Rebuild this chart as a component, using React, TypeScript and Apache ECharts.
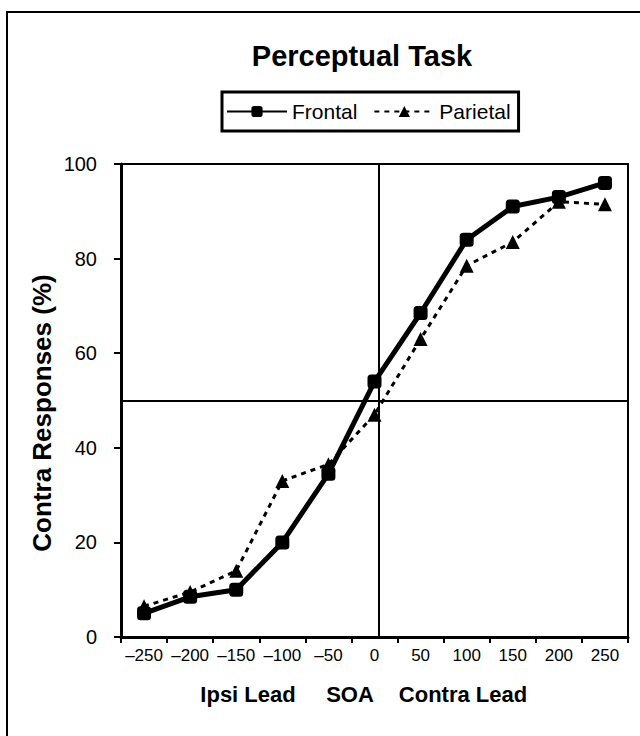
import React, { useEffect, useRef } from "react";
import * as echarts from "echarts";

const soaLabels = ["\u2013250", "\u2013200", "\u2013150", "\u2013100", "\u201350", "0", "50", "100", "150", "200", "250"];
const soaValues = [-250, -200, -150, -100, -50, 0, 50, 100, 150, 200, 250];
const frontal = [5, 8.5, 10, 20, 34.5, 54, 68.5, 84, 91, 93, 96];
const parietal = [6.5, 9.5, 14, 33, 36.5, 47, 63, 78.5, 83.5, 92, 91.5];
const yTicks = { min: 0, max: 100, interval: 20 };
const refX = 5;
const refY = 50;

const FONT = '"Liberation Sans", Arial, Helvetica, sans-serif';

export default function App() {
  const ref = useRef<HTMLDivElement>(null);
  useEffect(() => {
    if (!ref.current) return;
    const chart = echarts.init(ref.current, null, { renderer: "svg" });
    const pairs = (vals: number[]) => soaValues.map((s, i) => [s, vals[i]]);
    chart.setOption({
      animation: false,
      backgroundColor: "#fff",
      textStyle: { fontFamily: FONT, color: "#000" },
      grid: {
        left: 121,
        right: 12,
        top: 164,
        bottom: 99,
        show: true,
        borderColor: "#000",
        borderWidth: 2,
        backgroundColor: "transparent",
      },
      legend: {
        left: 222,
        top: 92,
        itemWidth: 60,
        itemHeight: 14,
        itemGap: 16,
        padding: [9, 8, 9, 4],
        borderColor: "#000",
        borderWidth: 3,
        textStyle: { fontSize: 21, color: "#000", fontFamily: FONT },
        data: ["Frontal", "Parietal"],
      },
      xAxis: [
        {
          type: "category",
          data: soaLabels,
          boundaryGap: true,
          axisLine: { onZero: false, lineStyle: { color: "#000", width: 3 } },
          axisTick: { show: true, length: 6, interval: 0, lineStyle: { color: "#000", width: 2 } },
          axisLabel: { fontSize: 17, color: "#000", margin: 10, interval: 0, fontFamily: FONT },
          splitLine: { show: false },
        },
        {
          type: "value",
          min: -275,
          max: 275,
          show: false,
          splitLine: { show: false },
        },
      ],
      yAxis: {
        type: "value",
        min: yTicks.min,
        max: yTicks.max,
        interval: yTicks.interval,
        axisLine: { show: true, onZero: false, lineStyle: { color: "#000", width: 3 } },
        axisTick: { show: true, length: 7, lineStyle: { color: "#000", width: 2 } },
        axisLabel: { fontSize: 20, color: "#000", margin: 24, fontFamily: FONT },
        splitLine: { show: false },
      },
      series: [
        {
          name: "Frontal",
          type: "line",
          xAxisIndex: 1,
          data: pairs(frontal),
          symbol: "roundRect",
          symbolSize: 14,
          lineStyle: { color: "#000", width: 5, type: "solid" },
          itemStyle: { color: "#000" },
          z: 3,
          markLine: {
            silent: true,
            symbol: "none",
            label: { show: false },
            lineStyle: { color: "#000", width: 2, type: "solid" },
            data: [{ xAxis: refX }, { yAxis: refY }],
            z: 1,
          },
        },
        {
          name: "Parietal",
          type: "line",
          xAxisIndex: 1,
          data: pairs(parietal),
          symbol: "triangle",
          symbolSize: 14,
          lineStyle: { color: "#000", width: 3, type: [5, 5] },
          itemStyle: { color: "#000" },
          z: 2,
        },
      ],
      graphic: [
        {
          type: "rect",
          shape: { x: 7, y: 12, width: 700, height: 800 },
          style: { fill: "none", stroke: "#000", lineWidth: 2 },
          silent: true,
          z: -1,
        },
        {
          type: "text",
          x: 362,
          y: 56,
          style: {
            text: "Perceptual Task",
            textAlign: "center",
            textVerticalAlign: "middle",
            font: `bold 29px ${FONT}`,
            fill: "#000",
          },
        },
        {
          type: "text",
          x: 42,
          y: 413,
          rotation: Math.PI / 2,
          style: {
            text: "Contra Responses (%)",
            textAlign: "center",
            textVerticalAlign: "middle",
            font: `bold 26px ${FONT}`,
            fill: "#000",
          },
        },
        {
          type: "text",
          x: 248,
          y: 694,
          style: { text: "Ipsi Lead", textAlign: "center", textVerticalAlign: "middle", font: `bold 22px ${FONT}`, fill: "#000" },
        },
        {
          type: "text",
          x: 350,
          y: 694,
          style: { text: "SOA", textAlign: "center", textVerticalAlign: "middle", font: `bold 22px ${FONT}`, fill: "#000" },
        },
        {
          type: "text",
          x: 463,
          y: 694,
          style: { text: "Contra Lead", textAlign: "center", textVerticalAlign: "middle", font: `bold 22px ${FONT}`, fill: "#000" },
        },
      ],
    });
    return () => chart.dispose();
  }, []);
  return <div ref={ref} style={{ position: "absolute", left: 0, top: 0, width: 640, height: 736 }} />;
}
